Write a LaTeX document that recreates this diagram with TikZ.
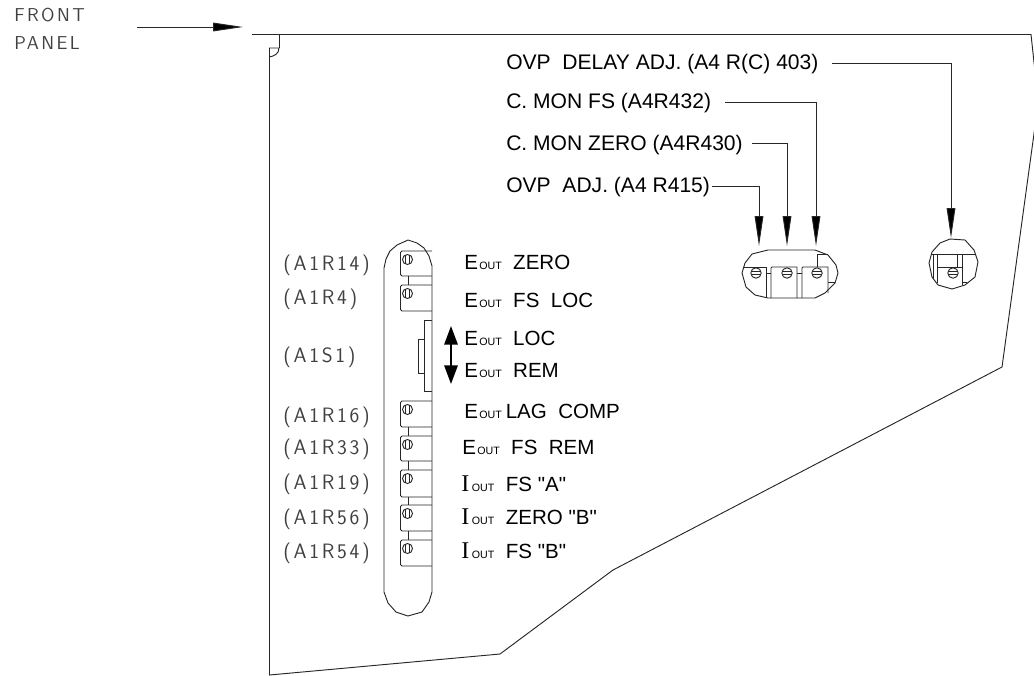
\documentclass[tikz,border=0pt]{standalone}
\usepackage{fontspec}
\setmainfont{Liberation Sans}
\newfontfamily\thinfont[LetterSpace=13]{Latin Modern Sans}
\newfontfamily\serfont{Liberation Serif}
\usetikzlibrary{arrows.meta}
\newcommand{\Eo}{E\kern1pt{\fontsize{8}{8}\selectfont OUT}}
\newcommand{\Io}{{\serfont\fontsize{18}{18}\selectfont I}\kern2pt{\fontsize{8}{8}\selectfont OUT}}
\tikzset{
 x=0.75pt,y=-0.75pt,
 line/.style={draw=black!85,line width=0.7pt},
 ptr/.style={line,-{Triangle[length=22.5pt,width=6.5pt,fill=black]}},
 lab/.style={anchor=west,inner sep=0,text height=11pt,text depth=0pt,font=\fontsize{15.4}{17}\selectfont,text=black},
 labt/.style={lab,font=\fontsize{15.8}{18}\selectfont},
 ref/.style={anchor=west,inner sep=0,text height=10.8pt,text depth=0pt,font=\thinfont\fontsize{15.6}{17}\selectfont,text=black!75},
 refs/.style={ref,text height=9.8pt,font=\thinfont\fontsize{14}{16}\selectfont},
}
\newcommand{\trim}[2]{%
 \draw[line] (432,#1) -- (402,#1) -- (400.5,#1+1.5) -- (400.5,#2-1.5) -- (402,#2) -- (432,#2);
 \draw[line] (407.5,#1+8.5) circle (5);
 \draw[line] (405.8,#1+3.8) -- (405.8,#1+13.2) (409.2,#1+3.8) -- (409.2,#1+13.2);
}
\newcommand{\screw}[2]{%
 \draw[line] (#1,#2) circle (5.2);
 \draw[line] (#1-5,#2-1.5) -- (#1+5,#2-1.5) (#1-5,#2+1.5) -- (#1+5,#2+1.5);
}
\begin{document}
\begin{tikzpicture}
\useasboundingbox (0,0) rectangle (1034,675);
% texts
\node[refs] (fp1) at (14,15) {FRONT};
\node[refs] (fp2) at (14,43) {PANEL};
\coordinate (fpa) at (137,27);
\coordinate (fpb) at (243,27);
\draw[ptr] (fpa) -- (fpb);
% panel outline
\draw[line] (252,34.5) -- (1031,34.5) -- (1034.5,67);
\draw[line] (1034.5,130) -- (1002,367) -- (613,570) -- (500,654) -- (269.5,675) -- (269.5,57)
 .. controls (274,56) and (279,54) .. (279,48) -- (269.5,48) -- (269.5,57);
\draw[line] (279,48) -- (279,34.5);
% top labels
\node[labt] (t1) at (506,62) {OVP\ \ DELAY ADJ. (A4 R(C) 403)};
\node[labt] (t2) at (506,101) {C. MON FS (A4R432)};
\node[labt] (t3) at (506,143) {C. MON ZERO (A4R430)};
\node[labt] (t4) at (506,185) {OVP\ \ ADJ. (A4 R415)};
\coordinate (a1) at (951,63);
\coordinate (a2) at (816,102);
\coordinate (a3) at (787,143.5);
\coordinate (a4) at (759,186);
\coordinate (b1) at (951,238);
\coordinate (b2) at (816,246);
\coordinate (b3) at (787,246);
\coordinate (b4) at (759,246);
\draw[ptr] ([xshift=9.75pt]t1.east |- a1) -- (a1) -- (b1);
\draw[ptr] ([xshift=10.5pt]t2.east |- a2) -- (a2) -- (b2);
\draw[ptr] ([xshift=6.75pt]t3.east |- a3) -- (a3) -- (b3);
\draw[ptr] ([xshift=1pt]t4.east |- a4) -- (a4) -- (b4);
% right capsule
\draw[line] (742,273) -- (745,263) -- (752,254) -- (768,250) -- (815,250) -- (828,255) -- (836,265) -- (838,273) -- (835,283) -- (825,293) -- (815,298) -- (768,298) -- (755,295) -- (746,287) -- cycle;
\draw[line] (743,267) -- (766,267) -- (766,298);
\draw[line] (771,298) -- (771,268) -- (772,267) -- (797,267) -- (797,298);
\draw[line] (802,298) -- (802,268) -- (803,267) -- (828,267) -- (828,293);
\draw[line] (828,282) -- (835,282);
\draw[line] (817,267) -- (817,254) -- (828,254);
\draw[line] (766,273) -- (771,273) (797,273) -- (802,273);
\screw{756}{273}
\screw{787}{273}
\screw{817}{273}
% round one
\draw[line] (950,239) -- (965,240) -- (974,250) -- (978,262) -- (975,277) -- (965,285) -- (952,289) -- (938,285) -- (932,277) -- (929,263) -- (932,252) -- (940,243) -- cycle;
\draw[line] (931,254) -- (975,254);
\draw[line] (933,254) -- (933,279) (937,254) -- (937,283);
\draw[line] (937,267) -- (962,267) (957,254) -- (957,267) (962,254) -- (962,285) (962,282) -- (967,282);
\screw{953}{273}
% pill
\draw[line] (384,592) -- (384,268) -- (386,259) -- (390,251) -- (397,245) -- (408,240) -- (417,243) -- (424,248) -- (429,256) -- (432,266) -- (432,592) -- (429,602) -- (422,612) -- (408,616) -- (396,612) -- (388,603) -- cycle;
\trim{251}{276}
\trim{285}{311}
\trim{401}{427}
\trim{436}{461}
\trim{470}{497}
\trim{505}{531}
\trim{540}{566}
\foreach \u/\v in {276/285,427/436,461/470,497/505,531/540} \draw[line] (408,\u) -- (408,\v);
% switch
\draw[line] (432,320) -- (424,320) -- (424,391) -- (432,391);
\draw[line] (424,339) -- (418,339) -- (418,373) -- (424,373);
\draw[line width=1.6pt,draw=black,{Triangle[length=14pt,width=10pt,fill=black]}-{Triangle[length=14pt,width=10pt,fill=black]}] (451,326) -- (451,384);
% left refs
\node[ref] (r1) at (283,263) {(A1R14)};
\node[ref] (r2) at (283,297) {(A1R4)};
\node[ref] (r3) at (283,355) {(A1S1)};
\node[ref] (r4) at (283,415) {(A1R16)};
\node[ref] (r5) at (283,447) {(A1R33)};
\node[ref] (r6) at (283,482) {(A1R19)};
\node[ref] (r7) at (283,517) {(A1R56)};
\node[ref] (r8) at (283,551) {(A1R54)};
% right labels
\node[lab] (e1) at (464,262) {\Eo\ \ ZERO};
\node[lab] (e2) at (464,300) {\Eo\ \ FS\ \ LOC};
\node[lab] (e3) at (464,338) {\Eo\ \ LOC};
\node[lab] (e4) at (464,370) {\Eo\ \ REM};
\node[lab] (e5) at (464,411) {\Eo\kern3pt LAG\ \ COMP};
\node[lab] (e6) at (462,447) {\Eo\ \ FS\ \ REM};
\node[lab] (e7) at (461,484) {\Io\ \ FS \textquotedbl A\textquotedbl};
\node[lab] (e8) at (461,517) {\Io\ \ ZERO \textquotedbl B\textquotedbl};
\node[lab] (e9) at (461,551) {\Io\ \ FS \textquotedbl B\textquotedbl};
\end{tikzpicture}
\end{document}
